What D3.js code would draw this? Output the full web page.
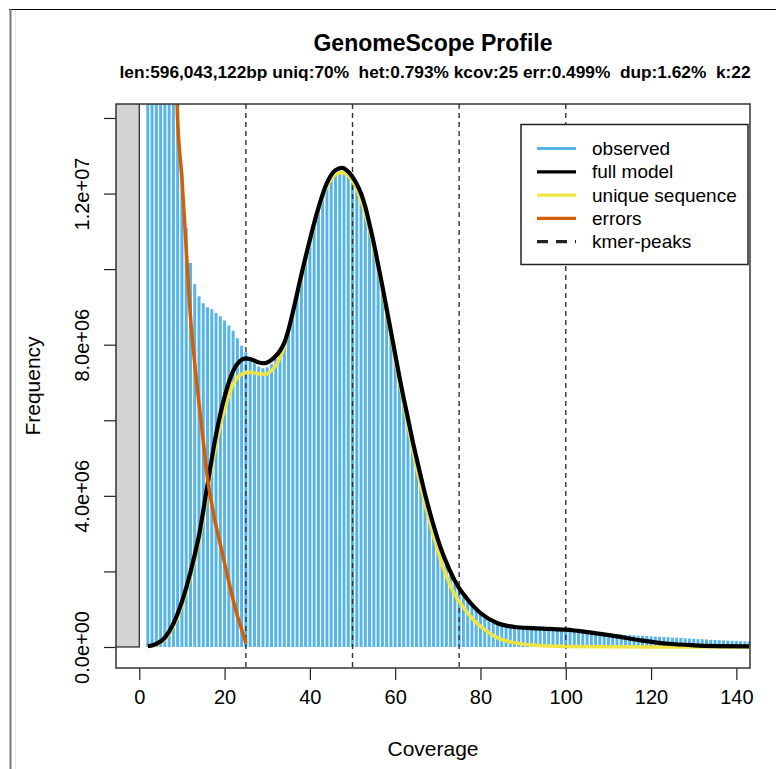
<!DOCTYPE html>
<html>
<head>
<meta charset="utf-8">
<script src="https://cdn.jsdelivr.net/npm/d3@7"></script>
<style>
  body { margin: 0; background: #fff; }
  svg text { font-family: "Liberation Sans", Arial, sans-serif; fill: #000; }
</style>
</head>
<body>
<svg id="chart" width="776" height="769"></svg>
<script>
// observed k-mer histogram, frequency in millions, starting at coverage 2
const obsStart = 2;
const observed = [
    60, 48, 38, 30, 24, 19.5, 16.2, 14.6,                                   // 2-9
    12.56, 11.08, 10.16, 9.60, 9.28, 9.10, 8.99, 8.94, 8.84, 8.75,          // 10-19
    8.64, 8.51, 8.37, 8.17, 7.97, 7.80, 7.62, 7.50, 7.42, 7.38,             // 20-29
    7.40, 7.48, 7.62, 7.80, 8.05, 8.42, 8.87, 9.35, 9.85, 10.30,            // 30-39
    10.72, 11.15, 11.58, 11.95, 12.22, 12.42, 12.55, 12.60, 12.58, 12.45,   // 40-49
    12.28, 12.10, 11.88, 11.52, 11.08, 10.58, 10.03, 9.45, 8.87, 8.27,      // 50-59
    7.67, 7.08, 6.50, 5.96, 5.43, 4.93, 4.45, 3.98, 3.55, 3.15,             // 60-69
    2.79, 2.46, 2.17, 1.91, 1.69, 1.50, 1.34, 1.20, 1.08, 0.98,             // 70-79
    0.89, 0.81, 0.75, 0.69, 0.64, 0.60, 0.57, 0.54, 0.52, 0.50,             // 80-89
    0.49, 0.48, 0.47, 0.465, 0.46, 0.455, 0.45, 0.445, 0.44, 0.435,         // 90-99
    0.43, 0.425, 0.42, 0.41, 0.40, 0.39, 0.385, 0.38, 0.37, 0.36,           // 100-109
    0.35, 0.345, 0.34, 0.33, 0.32, 0.315, 0.31, 0.30, 0.295, 0.29,          // 110-119
    0.28, 0.275, 0.27, 0.265, 0.26, 0.25, 0.245, 0.24, 0.23, 0.225,         // 120-129
    0.22, 0.21, 0.205, 0.20, 0.19, 0.185, 0.18, 0.175, 0.17, 0.165,         // 130-139
    0.16, 0.155, 0.15, 0.145                                                // 140-143
];

// full model curve
const modelCov  = [2, 4, 6, 8, 10, 12, 14, 16, 18, 20, 22, 24, 25, 26, 28, 29, 30, 31, 32, 33, 34, 35, 36, 38, 40, 42, 44, 46, 47.5, 49, 51, 52, 53, 54, 55, 56, 57, 58, 59, 60, 61, 62, 63, 64, 65, 66, 67, 68, 69, 70, 71, 72, 73, 74, 75, 76, 78, 80, 84, 88, 92, 96, 100, 106, 112, 118, 124, 130, 136, 143];
const modelFreq = [0.02, 0.08, 0.25, 0.62, 1.20, 1.98, 2.95, 4.30, 5.62, 6.62, 7.30, 7.60, 7.64, 7.62, 7.53, 7.51, 7.53, 7.60, 7.70, 7.84, 8.05, 8.40, 8.86, 9.85, 10.78, 11.62, 12.28, 12.62, 12.68, 12.58, 12.25, 12.00, 11.65, 11.18, 10.68, 10.12, 9.55, 8.95, 8.35, 7.75, 7.15, 6.58, 6.05, 5.50, 5.00, 4.52, 4.05, 3.62, 3.22, 2.85, 2.52, 2.24, 1.98, 1.75, 1.56, 1.40, 1.12, 0.90, 0.63, 0.53, 0.50, 0.48, 0.46, 0.38, 0.28, 0.17, 0.085, 0.045, 0.025, 0.015];

// unique sequence curve
const uniqueCov  = [2, 4, 6, 8, 10, 12, 14, 16, 18, 20, 22, 24, 26, 28, 29.5, 31, 33, 35, 37, 40, 42, 44, 46, 47.5, 49, 51, 53, 55, 57, 59, 61, 63, 65, 68, 70, 72, 74, 76, 78, 80, 84, 88, 92, 96, 100, 110, 120, 143];
const uniqueFreq = [0.01, 0.06, 0.20, 0.55, 1.10, 1.85, 2.80, 4.10, 5.35, 6.30, 6.95, 7.22, 7.27, 7.23, 7.22, 7.32, 7.65, 8.35, 9.30, 10.70, 11.55, 12.18, 12.50, 12.56, 12.47, 12.12, 11.45, 10.55, 9.45, 8.25, 7.00, 5.85, 4.75, 3.35, 2.55, 1.88, 1.38, 1.05, 0.76, 0.55, 0.24, 0.11, 0.05, 0.025, 0.015, 0.005, 0.002, 0];

// errors curve
const errorCov  = [6, 7, 8, 9, 10, 11, 12, 13, 14, 15, 16, 17, 18, 19, 20, 21, 22, 23, 24, 25];
const errorFreq = [28, 22, 17.5, 13.9, 12.4, 10.55, 8.75, 7.5, 6.45, 5.45, 4.45, 3.78, 3.2, 2.72, 2.22, 1.72, 1.25, 0.83, 0.47, 0.1];

const kmerPeaks = [25, 50, 75, 100];

const xTicks = [0, 20, 40, 60, 80, 100, 120, 140];
const yTicks = [0, 2, 4, 6, 8, 10, 12, 14];
const yLabelled = [0, 4, 8, 12];

const legendLabels = ['observed', 'full model', 'unique sequence', 'errors', 'kmer-peaks'];
const legendColors = ['#56B4E9', '#000000', '#F0E442', '#D55E00', '#222222'];

const titleText = 'GenomeScope Profile';
const subtitleText = 'len:596,043,122bp uniq:70%  het:0.793% kcov:25 err:0.499%  dup:1.62%  k:22';

const svg = d3.select('#chart');

// page frame
svg.append('line').attr('x1', 9).attr('x2', 776).attr('y1', 9.5).attr('y2', 9.5)
    .attr('stroke', '#000').attr('stroke-width', 1);
svg.append('line').attr('x1', 10.5).attr('x2', 10.5).attr('y1', 9).attr('y2', 769)
    .attr('stroke', '#777').attr('stroke-width', 2);
svg.append('line').attr('x1', 15.5).attr('x2', 15.5).attr('y1', 10).attr('y2', 769)
    .attr('stroke', '#e6e6e6').attr('stroke-width', 1);

const plot = { left: 116, right: 750, top: 104, bottom: 668 };

const x = d3.scaleLinear().domain([-5.46, 143.2]).range([plot.left, plot.right]);
const y = d3.scaleLinear().domain([-0.556, 14.37]).range([plot.bottom, plot.top]);

svg.append('clipPath').attr('id', 'clip')
    .append('rect')
    .attr('x', plot.left).attr('y', plot.top)
    .attr('width', plot.right - plot.left).attr('height', plot.bottom - plot.top);

const inner = svg.append('g').attr('clip-path', 'url(#clip)');

// grey band left of zero coverage
inner.append('rect')
    .attr('x', x(-10)).attr('y', y(20))
    .attr('width', x(0) - x(-10)).attr('height', y(0) - y(20))
    .attr('fill', '#d3d3d3').attr('stroke', '#222').attr('stroke-width', 1.2);

// observed bars
inner.selectAll('line.obs')
    .data(observed)
    .enter()
    .append('line')
    .attr('class', 'obs')
    .attr('x1', (d, i) => x(obsStart + i))
    .attr('x2', (d, i) => x(obsStart + i))
    .attr('y1', y(0))
    .attr('y2', d => y(d))
    .attr('stroke', '#56B4E9')
    .attr('stroke-width', 3);

// kmer peaks
inner.selectAll('line.peak')
    .data(kmerPeaks)
    .enter()
    .append('line')
    .attr('class', 'peak')
    .attr('x1', d => x(d)).attr('x2', d => x(d))
    .attr('y1', plot.top).attr('y2', plot.bottom)
    .attr('stroke', '#333').attr('stroke-width', 1.4)
    .attr('stroke-dasharray', '5,4');

const line = d3.line().x(d => x(d[0])).y(d => y(d[1])).curve(d3.curveMonotoneX);

inner.append('path')
    .attr('d', line(d3.zip(uniqueCov, uniqueFreq)))
    .attr('fill', 'none').attr('stroke', '#F0E442').attr('stroke-width', 3.5);

inner.append('path')
    .attr('d', line(d3.zip(modelCov, modelFreq)))
    .attr('fill', 'none').attr('stroke', '#000').attr('stroke-width', 4.2);

inner.append('path')
    .attr('d', line(d3.zip(errorCov, errorFreq)))
    .attr('fill', 'none').attr('stroke', '#D55E00').attr('stroke-width', 3.5);

// axes
const fmtSci = v => d3.format('.1e')(v * 1e6).replace(/e([+-])(\d)$/, 'e$10$2');

const xAxis = svg.append('g')
    .attr('transform', `translate(0,${plot.bottom})`)
    .call(d3.axisBottom(x).tickValues(xTicks).tickSize(12).tickPadding(10).tickSizeOuter(0));
xAxis.select('.domain').remove();
xAxis.selectAll('line').attr('stroke', '#222').attr('stroke-width', 1.2);
xAxis.selectAll('text').attr('font-size', 20).attr('font-family', '"Liberation Sans", Arial, sans-serif');

const yAxis = svg.append('g')
    .attr('transform', `translate(${plot.left},0)`)
    .call(d3.axisLeft(y).tickValues(yTicks).tickSize(12).tickSizeOuter(0)
        .tickFormat(d => yLabelled.includes(d) ? fmtSci(d) : ''));
yAxis.select('.domain').remove();
yAxis.selectAll('line').attr('stroke', '#222').attr('stroke-width', 1.2);
yAxis.selectAll('text')
    .attr('font-size', 20)
    .attr('font-family', '"Liberation Sans", Arial, sans-serif')
    .attr('text-anchor', 'middle')
    .attr('x', 0).attr('dy', 0)
    .attr('transform', 'translate(-27,0) rotate(-90)');

// plot box
svg.append('rect')
    .attr('x', plot.left).attr('y', plot.top)
    .attr('width', plot.right - plot.left).attr('height', plot.bottom - plot.top)
    .attr('fill', 'none').attr('stroke', '#333').attr('stroke-width', 1.5);

// axis titles
svg.append('text')
    .attr('x', (plot.left + plot.right) / 2).attr('y', 756)
    .attr('text-anchor', 'middle').attr('font-size', 21)
    .text('Coverage');

svg.append('text')
    .attr('transform', `translate(40,${(plot.top + plot.bottom) / 2}) rotate(-90)`)
    .attr('text-anchor', 'middle').attr('font-size', 21)
    .text('Frequency');

// titles
svg.append('text')
    .attr('x', 433).attr('y', 51)
    .attr('text-anchor', 'middle').attr('font-size', 23).attr('font-weight', 'bold')
    .text(titleText);

svg.append('text')
    .attr('x', 435).attr('y', 78)
    .attr('text-anchor', 'middle').attr('font-size', 17.3).attr('font-weight', 'bold')
    .style('white-space', 'pre')
    .text(subtitleText);

// legend
const legend = svg.append('g');
legend.append('rect')
    .attr('x', 521).attr('y', 124.5).attr('width', 227).attr('height', 140)
    .attr('fill', '#fff').attr('stroke', '#222').attr('stroke-width', 1.5);

legendLabels.forEach((label, i) => {
    const ly = 148.5 + i * 23.3;
    legend.append('line')
        .attr('x1', 537).attr('x2', 576).attr('y1', ly).attr('y2', ly)
        .attr('stroke', legendColors[i]).attr('stroke-width', 3.2)
        .attr('stroke-dasharray', i === 4 ? '11,8' : null);
    legend.append('text')
        .attr('x', 592).attr('y', ly).attr('dy', '0.35em')
        .attr('font-size', 19)
        .text(label);
});
</script>
</body>
</html>
